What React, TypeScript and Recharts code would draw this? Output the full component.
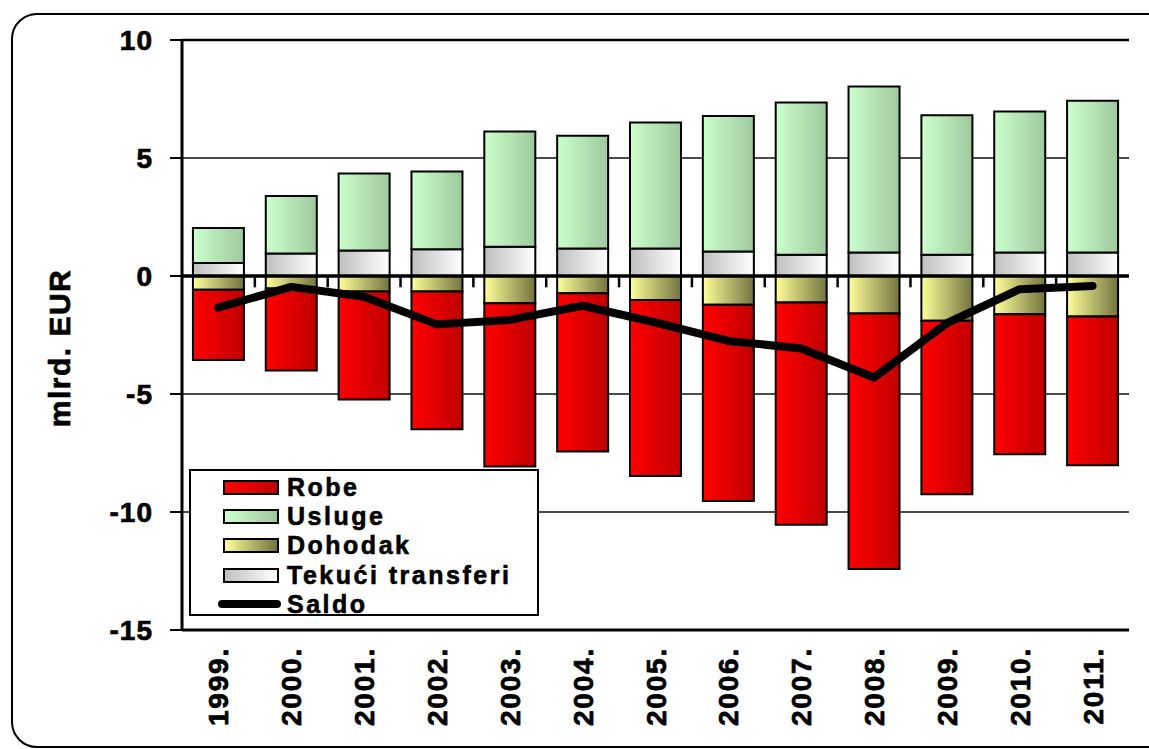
import {
	Bar,
	CartesianGrid,
	ComposedChart,
	Legend,
	Line,
	ReferenceLine,
	XAxis,
	YAxis,
} from "recharts";

// values in mlrd. EUR
const years = [
	"1999.", "2000.", "2001.", "2002.", "2003.", "2004.", "2005.",
	"2006.", "2007.", "2008.", "2009.", "2010.", "2011.",
];
const robe = [-2.98, -3.47, -4.57, -5.83, -6.92, -6.71, -7.45, -8.31, -9.42, -10.83, -7.35, -5.93, -6.3];
const usluge = [1.48, 2.44, 3.26, 3.3, 4.88, 4.78, 5.34, 5.74, 6.45, 7.03, 5.91, 5.97, 6.43];
const dohodak = [-0.58, -0.53, -0.66, -0.66, -1.15, -0.73, -1.02, -1.22, -1.12, -1.59, -1.9, -1.62, -1.72];
const transferi = [0.55, 0.95, 1.08, 1.13, 1.24, 1.16, 1.16, 1.04, 0.9, 1.0, 0.9, 1.0, 1.0];
const saldo = [-1.34, -0.46, -0.88, -2.05, -1.86, -1.26, -1.97, -2.75, -3.07, -4.3, -2.0, -0.56, -0.42];
const yTicks = [-15, -10, -5, 0, 5, 10];

const data = years.map((year, i) => ({
	year,
	robe: robe[i],
	usluge: usluge[i],
	dohodak: dohodak[i],
	transferi: transferi[i],
	saldo: saldo[i],
}));

const FONT = "'Liberation Sans', Arial, Helvetica, sans-serif";

const gradients = {
	robe: ["#ff0000", "#c00000"],
	usluge: ["#ccffcc", "#9ec99e"],
	dohodak: ["#ffff99", "#737340"],
	transferi: ["#bfbfbf", "#ffffff"],
};

const legendItems = [
	{ key: "robe", name: "Robe" },
	{ key: "usluge", name: "Usluge" },
	{ key: "dohodak", name: "Dohodak" },
	{ key: "transferi", name: "Tekući transferi" },
	{ key: "saldo", name: "Saldo" },
];

function YearTick({ x, y, payload }: any) {
	const tx = x + 10;
	const ty = y + 17;
	return (
		<text
			x={tx}
			y={ty}
			transform={`rotate(-90, ${tx}, ${ty})`}
			textAnchor="end"
			fill="#000"
			stroke="#000"
			strokeWidth={0.7}
			fontSize={28}
			fontWeight={700}
			fontFamily={FONT}
			letterSpacing={1.8}
		>
			{payload.value}
		</text>
	);
}

function AxisTitle({ viewBox }: any) {
	const x = (viewBox?.x ?? 0) + 70;
	const y = (viewBox?.y ?? 40) + (viewBox?.height ?? 590) / 2 + 13;
	return (
		<text
			x={x}
			y={y}
			transform={`rotate(-90, ${x}, ${y})`}
			textAnchor="middle"
			fill="#000"
			stroke="#000"
			strokeWidth={0.7}
			fontSize={30}
			fontWeight={700}
			fontFamily={FONT}
			letterSpacing={1.5}
		>
			mlrd. EUR
		</text>
	);
}

function LegendBox() {
	return (
		<div
			style={{
				width: 350,
				height: 147,
				boxSizing: "border-box",
				border: "2px solid #000",
				background: "#fff",
				paddingTop: 2,
			}}
		>
			{legendItems.map((item) => {
				const g = (gradients as any)[item.key];
				return (
					<div
						key={item.key}
						style={{
							display: "flex",
							alignItems: "center",
							height: 29.2,
							fontFamily: FONT,
							fontWeight: 700,
							fontSize: 25,
							letterSpacing: 2.5,
							lineHeight: 1,
							color: "#000",
							WebkitTextStroke: "0.6px #000",
						}}
					>
						{g ? (
							<span
								style={{
									marginLeft: 32,
									width: 56,
									height: 15,
									boxSizing: "border-box",
									border: "2px solid #000",
									background: `linear-gradient(to right, ${g[0]}, ${g[1]})`,
									marginRight: 8,
								}}
							/>
						) : (
							<span
								style={{
									marginLeft: 27,
									width: 63,
									height: 8,
									borderRadius: 4,
									background: "#000",
									marginRight: 6,
								}}
							/>
						)}
						<span>{item.name}</span>
					</div>
				);
			})}
		</div>
	);
}

export default function App() {
	return (
		<div
			style={{
				position: "absolute",
				left: 0,
				top: 0,
				width: 1149,
				height: 749,
				overflow: "hidden",
				background: "#fff",
			}}
		>
			<div
				style={{
					position: "absolute",
					left: 11,
					top: 13,
					width: 1165,
					height: 735,
					boxSizing: "border-box",
					border: "2.5px solid #000",
					borderRadius: 26,
				}}
			/>
			<div style={{ position: "absolute", left: 0, top: 0 }}>
				<ComposedChart
					width={1149}
					height={749}
					data={data}
					margin={{ top: 40, right: 20, bottom: 0, left: 0 }}
					stackOffset="sign"
					barCategoryGap="15%"
				>
					<defs>
						{Object.entries(gradients).map(([k, g]) => (
							<linearGradient key={k} id={`grad-${k}`} x1="0" y1="0" x2="1" y2="0">
								<stop offset="0%" stopColor={g[0]} />
								<stop offset="100%" stopColor={g[1]} />
							</linearGradient>
						))}
					</defs>
					<CartesianGrid vertical={false} stroke="#111" strokeWidth={1.5} />
					<XAxis
						dataKey="year"
						height={119}
						interval={0}
						tickSize={0}
						tickMargin={0}
						tickLine={false}
						axisLine={{ stroke: "#000", strokeWidth: 3 }}
						tick={<YearTick />}
					/>
					<YAxis
						width={182}
						domain={[-15, 10]}
						ticks={yTicks}
						interval={0}
						tickSize={12}
						tickMargin={17}
						axisLine={{ stroke: "#000", strokeWidth: 3 }}
						tickLine={{ stroke: "#000", strokeWidth: 2 }}
						tick={{
							fill: "#000",
							stroke: "#000",
							strokeWidth: 0.7,
							fontSize: 28,
							fontWeight: 700,
							fontFamily: FONT,
							letterSpacing: 1,
						}}
						label={<AxisTitle />}
					/>
					<YAxis
						yAxisId="frame"
						orientation="right"
						width={0}
						domain={[-15, 10]}
						tick={false}
						tickLine={false}
						axisLine={{ stroke: "#222", strokeWidth: 2 }}
					/>
					<Bar dataKey="transferi" name="Tekući transferi" stackId="a" fill="url(#grad-transferi)" stroke="#000" strokeWidth={2} isAnimationActive={false} />
					<Bar dataKey="usluge" name="Usluge" stackId="a" fill="url(#grad-usluge)" stroke="#000" strokeWidth={2} isAnimationActive={false} />
					<Bar dataKey="dohodak" name="Dohodak" stackId="a" fill="url(#grad-dohodak)" stroke="#000" strokeWidth={2} isAnimationActive={false} />
					<Bar dataKey="robe" name="Robe" stackId="a" fill="url(#grad-robe)" stroke="#000" strokeWidth={2} isAnimationActive={false} />
					<ReferenceLine y={10} stroke="#000" strokeWidth={2.5} />
					<ReferenceLine y={0} stroke="#000" strokeWidth={3.5} />
					{years.slice(1).map((yr) => (
						<ReferenceLine
							key={yr}
							position="start"
							segment={[
								{ x: yr, y: 0 },
								{ x: yr, y: -0.48 },
							]}
							stroke="#000"
							strokeWidth={2.5}
						/>
					))}
					<Line
						dataKey="saldo"
						name="Saldo"
						type="linear"
						stroke="#000"
						strokeWidth={8}
						strokeLinecap="round"
						strokeLinejoin="round"
						dot={false}
						activeDot={false}
						isAnimationActive={false}
					/>
					<Legend
						layout="vertical"
						align="center"
						verticalAlign="middle"
						wrapperStyle={{ left: 189, top: 469, width: 350, height: 147 }}
						content={<LegendBox />}
					/>
				</ComposedChart>
			</div>
		</div>
	);
}
